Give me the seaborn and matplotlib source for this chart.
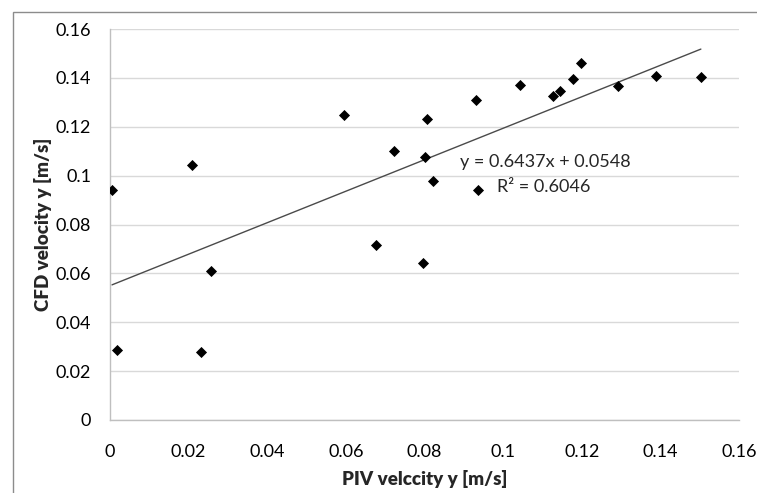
import numpy as np
import pandas as pd
import seaborn as sns
import matplotlib.pyplot as plt
from matplotlib.ticker import FuncFormatter, MultipleLocator
from matplotlib.patches import Rectangle

# PIV vs CFD velocity samples
piv_velocity = [0.0005, 0.0018, 0.0208, 0.0231, 0.0256, 0.0595, 0.0677, 0.0723,
                0.0796, 0.0800, 0.0806, 0.0821, 0.0930, 0.0935, 0.1042, 0.1126,
                0.1145, 0.1179, 0.1199, 0.1291, 0.1389, 0.1503]
cfd_velocity = [0.0940, 0.0285, 0.1043, 0.0279, 0.0609, 0.1250, 0.0716, 0.1099,
                0.0642, 0.1075, 0.1232, 0.0977, 0.1310, 0.0942, 0.1372, 0.1325,
                0.1347, 0.1397, 0.1460, 0.1366, 0.1407, 0.1405]

equation_text = "y = 0.6437x + 0.0548"
r2_text = "R\u00b2 = 0.6046"

df = pd.DataFrame({"piv": piv_velocity, "cfd": cfd_velocity})

sns.set_theme(style="white")
plt.rcParams["font.family"] = ["Lato", "DejaVu Sans"]

W, H = 757, 493
fig = plt.figure(figsize=(W / 100, H / 100), dpi=100)
# plot area in pixels: left 110, right 739, top 29, bottom 420
ax = fig.add_axes([110 / W, 1 - 420 / H, 629 / W, 391 / H])

# chart border like the spreadsheet frame
fig.patches.append(Rectangle((12.5 / W, -0.1), 1.2, 1 - 12 / H + 0.1,
                             transform=fig.transFigure, fill=False,
                             edgecolor="#8c8c8c", linewidth=1.0))

# linear trendline
sns.regplot(data=df, x="piv", y="cfd", ax=ax, scatter=False, ci=None,
            truncate=True, line_kws={"color": "#4a4a4a", "linewidth": 1.0})

sns.scatterplot(data=df, x="piv", y="cfd", ax=ax, marker="D", s=32,
                color="black", edgecolor="black", linewidth=0, zorder=3)

ax.set_xlim(0, 0.16)
ax.set_ylim(0, 0.16)
ax.xaxis.set_major_locator(MultipleLocator(0.02))
ax.yaxis.set_major_locator(MultipleLocator(0.02))
fmt = FuncFormatter(lambda v, p: f"{round(v, 4):g}")
ax.xaxis.set_major_formatter(fmt)
ax.yaxis.set_major_formatter(fmt)

ax.grid(axis="y", color="#d9d9d9", linewidth=1.0)
ax.grid(axis="x", visible=False)
ax.set_axisbelow(True)
for side in ["top", "right"]:
    ax.spines[side].set_visible(False)
for side in ["left", "bottom"]:
    ax.spines[side].set_color("#bfbfbf")
    ax.spines[side].set_linewidth(1.0)

ax.tick_params(axis="both", which="major", direction="out", length=4.5,
               width=1.0, color="#bfbfbf", labelsize=13, labelcolor="black")
ax.tick_params(axis="y", pad=9)
ax.tick_params(axis="x", pad=13)

ax.set_xlabel("PIV velccity y [m/s]", fontsize=13.5, fontweight="heavy", labelpad=7)
ax.set_ylabel("CFD velocity y [m/s]", fontsize=13.5, fontweight="heavy", labelpad=3)

ax.text(0.089, 0.1056, equation_text, fontsize=13, va="center", ha="left")
ax.text(0.0985, 0.0955, r2_text, fontsize=13, va="center", ha="left")

fig.savefig("out.png", dpi=100)
